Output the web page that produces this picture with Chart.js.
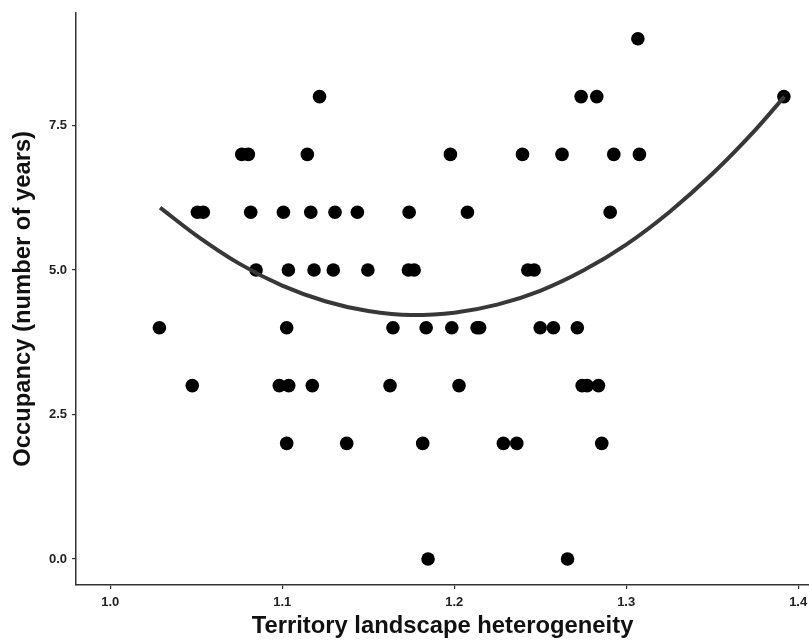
<!DOCTYPE html>
<html>
<head>
<meta charset="utf-8">
<script src="https://cdn.jsdelivr.net/npm/chart.js@4/dist/chart.umd.min.js"></script>
<style>
  html, body { margin: 0; padding: 0; background: #ffffff; }
  #wrap { width: 809px; height: 641px; position: relative; }
</style>
</head>
<body>
<div id="wrap"><canvas id="c" width="809" height="641"></canvas></div>
<script>
// Territory heterogeneity (x) and occupancy in years (y) for each territory
const heterogeneity = [
  1.3068,
  1.1217, 1.2738, 1.2829, 1.3917,
  1.0765, 1.0803, 1.1146, 1.1978, 1.2397, 1.2627, 1.2928, 1.3077,
  1.0507, 1.0541, 1.0817, 1.1007, 1.1166, 1.1307, 1.1437, 1.1738, 1.2077, 1.2907,
  1.0848, 1.1036, 1.1185, 1.1297, 1.1498, 1.1734, 1.1767, 1.2428, 1.2465,
  1.0286, 1.1026, 1.1644, 1.1837, 1.1986, 1.2133, 1.2148, 1.2500, 1.2577, 1.2716,
  1.0477, 1.0983, 1.1038, 1.1175, 1.1627, 1.2028, 1.2744, 1.2773, 1.2839,
  1.1026, 1.1375, 1.1817, 1.2286, 1.2364, 1.2858,
  1.1848, 1.2659
];
const occupancy = [
  9,
  8, 8, 8, 8,
  7, 7, 7, 7, 7, 7, 7, 7,
  6, 6, 6, 6, 6, 6, 6, 6, 6, 6,
  5, 5, 5, 5, 5, 5, 5, 5, 5,
  4, 4, 4, 4, 4, 4, 4, 4, 4, 4,
  3, 3, 3, 3, 3, 3, 3, 3, 3,
  2, 2, 2, 2, 2, 2,
  0, 0
];

// Quadratic trend line, sampled along x
const fitX = [1.029, 1.05, 1.075, 1.10, 1.125, 1.15, 1.175, 1.20, 1.225, 1.25, 1.275, 1.30, 1.325, 1.35, 1.375, 1.392];
const fitY = [6.08, 5.60, 5.11, 4.73, 4.46, 4.29, 4.22, 4.26, 4.40, 4.64, 4.99, 5.44, 6.00, 6.66, 7.42, 8.00];

// Axis tick positions
const xTicks = [1.0, 1.1, 1.2, 1.3, 1.4];
const yTicks = [0, 2.5, 5.0, 7.5];

const points = heterogeneity.map((x, i) => ({ x: x, y: occupancy[i] }));
const fit = fitX.map((x, i) => ({ x: x, y: fitY[i] }));

const axisColor = '#333333';
const tickFont = { family: '"Liberation Sans", Arial, sans-serif', size: 13, weight: 'bold' };
const titleFont = { family: '"Liberation Sans", Arial, sans-serif', size: 23.8, weight: 'bold' };

new Chart(document.getElementById('c'), {
  type: 'scatter',
  data: {
    datasets: [
      {
        type: 'line',
        data: fit,
        borderColor: '#383838',
        borderWidth: 4,
        pointRadius: 0,
        fill: false,
        cubicInterpolationMode: 'monotone'
      },
      {
        data: points,
        backgroundColor: '#000000',
        borderWidth: 0,
        pointRadius: 6.8,
        pointHoverRadius: 6.8
      }
    ]
  },
  options: {
    responsive: false,
    animation: false,
    events: [],
    layout: { autoPadding: false, padding: { top: 10, right: 0, bottom: 0, left: 0 } },
    plugins: { legend: { display: false }, tooltip: { enabled: false } },
    scales: {
      x: {
        type: 'linear',
        min: 0.9801,
        max: 1.4063,
        afterBuildTicks: s => { s.ticks = xTicks.map(v => ({ value: v })); },
        afterFit: s => { s.height = 56; s.paddingRight = 0; s.paddingLeft = 0; },
        border: { display: true, color: axisColor, width: 1.5 },
        grid: { display: true, drawOnChartArea: false, drawTicks: true, tickLength: 4, color: axisColor, lineWidth: 1.2 },
        ticks: {
          color: '#222222',
          font: tickFont,
          padding: 6,
          maxRotation: 0,
          callback: v => Number(v).toFixed(1)
        },
        title: {
          display: true,
          text: 'Territory landscape heterogeneity',
          color: '#111111',
          font: titleFont,
          padding: { top: 0, bottom: 0 }
        }
      },
      y: {
        type: 'linear',
        min: -0.45,
        max: 9.45,
        afterBuildTicks: s => { s.ticks = yTicks.map(v => ({ value: v })); },
        afterFit: s => { s.width = 76; },
        border: { display: true, color: axisColor, width: 1.5 },
        grid: { display: true, drawOnChartArea: false, drawTicks: true, tickLength: 4, color: axisColor, lineWidth: 1.2 },
        ticks: {
          color: '#222222',
          font: tickFont,
          padding: 5,
          callback: v => Number(v).toFixed(1)
        },
        title: {
          display: true,
          text: 'Occupancy (number of years)',
          color: '#111111',
          font: titleFont,
          padding: { top: 9, bottom: 0 }
        }
      }
    }
  }
});
</script>
</body>
</html>
